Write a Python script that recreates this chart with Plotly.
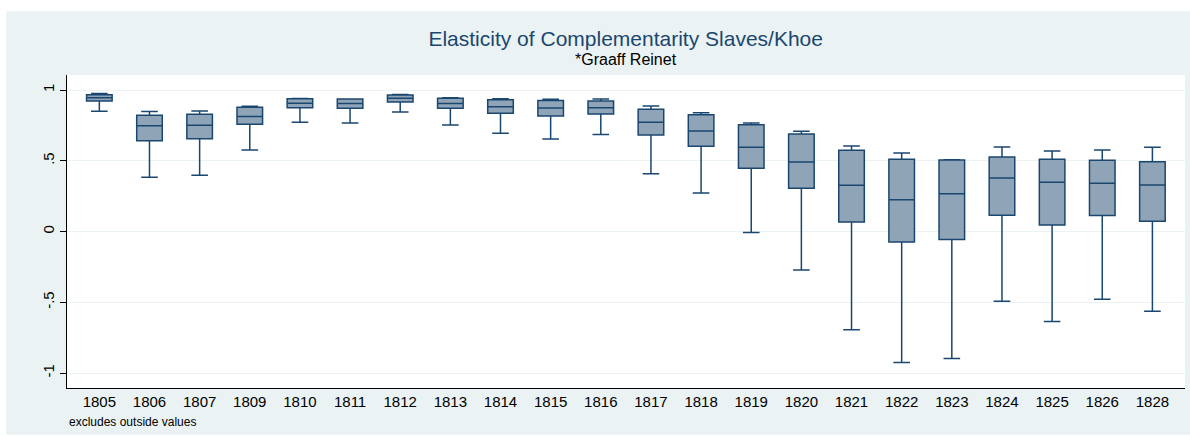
import plotly.graph_objects as go

years = ["1805", "1806", "1807", "1809", "1810", "1811", "1812", "1813", "1814", "1815", "1816",
         "1817", "1818", "1819", "1820", "1821", "1822", "1823", "1824", "1825", "1826", "1828"]
lower = [0.850, 0.384, 0.398, 0.576, 0.772, 0.767, 0.845, 0.753, 0.694, 0.654, 0.685,
         0.409, 0.273, -0.007, -0.271, -0.694, -0.925, -0.896, -0.492, -0.635, -0.478, -0.562]
q1 = [0.922, 0.642, 0.656, 0.758, 0.875, 0.871, 0.915, 0.871, 0.835, 0.816, 0.831,
      0.682, 0.602, 0.447, 0.306, 0.068, -0.073, -0.056, 0.115, 0.047, 0.113, 0.073]
median = [0.946, 0.748, 0.751, 0.812, 0.906, 0.904, 0.941, 0.904, 0.882, 0.873, 0.875,
          0.772, 0.711, 0.595, 0.492, 0.327, 0.224, 0.268, 0.379, 0.348, 0.341, 0.329]
q3 = [0.966, 0.821, 0.828, 0.878, 0.939, 0.936, 0.965, 0.941, 0.932, 0.925, 0.922,
      0.864, 0.826, 0.755, 0.689, 0.574, 0.511, 0.506, 0.527, 0.511, 0.504, 0.494]
upper = [0.975, 0.849, 0.852, 0.885, 0.940, 0.937, 0.968, 0.946, 0.939, 0.934, 0.936,
         0.887, 0.840, 0.767, 0.708, 0.605, 0.555, 0.507, 0.598, 0.569, 0.576, 0.595]

navy = "#1A476F"
bg = "#EAF2F3"
font = "Liberation Sans, Arial, sans-serif"

fig = go.Figure()
fig.add_trace(go.Box(
    x=years, q1=q1, median=median, q3=q3, lowerfence=lower, upperfence=upper,
    fillcolor="#90A4B8", line=dict(color=navy, width=1.5),
    width=0.51, whiskerwidth=0.65, boxpoints=False, hoverinfo="y",
))

# thin white border around the stata-style graph region
white = dict(type="rect", xref="paper", yref="paper", layer="above",
             fillcolor="white", line=dict(width=0))
fig.add_shape(**white, x0=-0.1, x1=1.1, y0=1.204, y1=1.3)   # top
fig.add_shape(**white, x0=-0.1, x1=-0.0543, y0=-0.2, y1=1.3)  # left
fig.add_shape(**white, x0=-0.1, x1=1.1, y0=-0.2, y1=-0.149)  # bottom

fig.update_layout(
    width=1190, height=437,
    margin=dict(l=67, r=5, t=75, b=49),
    paper_bgcolor=bg, plot_bgcolor="white",
    showlegend=False,
    font=dict(family=font, color="black", size=15),
    title=dict(text="Elasticity of Complementarity Slaves/Khoe", x=0.5258, xanchor="center",
               y=0.911, yanchor="middle", font=dict(size=21, color=navy)),
    annotations=[
        dict(text="*Graaff Reinet", xref="paper", yref="paper", x=0.5, y=1.051,
             xanchor="center", yanchor="middle", showarrow=False, font=dict(size=16, color="black")),
        dict(text="excludes outside values", xref="paper", yref="paper", x=0.0, y=-0.08,
             xanchor="left", yanchor="top", showarrow=False, font=dict(size=12, color="black")),
    ],
)
fig.update_xaxes(type="category", range=[-0.645, 21.65], showgrid=False,
                 showline=True, linecolor="black", linewidth=1, ticks="",
                 tickfont=dict(size=15), zeroline=False)
fig.update_yaxes(range=[-1.105, 1.106], tickvals=[-1, -0.5, 0, 0.5, 1],
                 ticktext=["-1", "-.5", "0", ".5", "1"], tickangle=-90,
                 showgrid=True, gridcolor=bg, gridwidth=1, zeroline=False,
                 showline=True, linecolor="black", linewidth=1,
                 ticks="outside", ticklen=6, tickcolor="black", tickfont=dict(size=15))

fig.write_html("out.html", config={"displayModeBar": False},
               post_script="document.body.style.margin='0';")
